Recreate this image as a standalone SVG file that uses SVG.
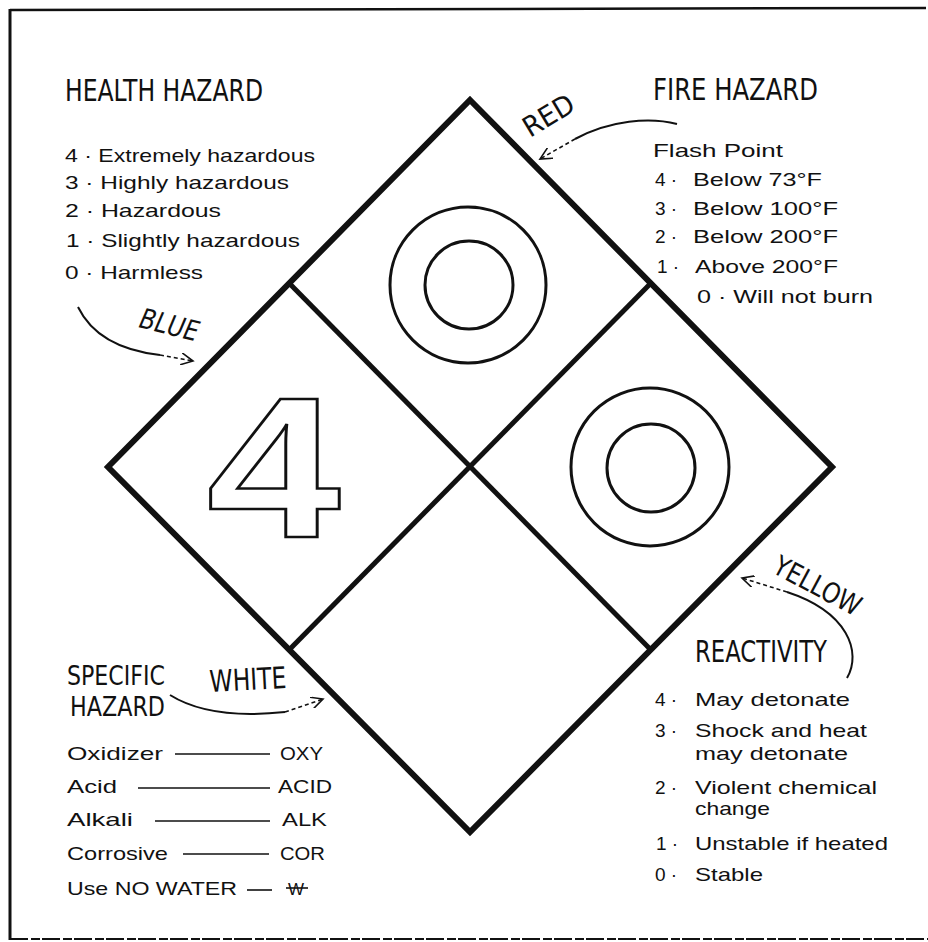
<svg xmlns="http://www.w3.org/2000/svg" width="928" height="942" viewBox="0 0 928 942">
<style>
.t{font-family:"Liberation Sans","DejaVu Sans",sans-serif;font-size:19px;fill:#111;}
.h{font-family:"Liberation Sans Narrow","DejaVu Sans Condensed",sans-serif;font-size:31px;fill:#111;}
.s{font-family:"Liberation Sans Narrow","DejaVu Sans Condensed",sans-serif;font-size:26px;fill:#111;}
.c{font-family:"Liberation Sans Narrow","DejaVu Sans Condensed",sans-serif;font-size:28px;fill:#111;}
.frame{stroke:#111;fill:none;}
.dia{stroke:#111;fill:none;stroke-linejoin:miter;}
.ring{stroke:#111;stroke-width:3;fill:none;}
.conn{stroke:#111;stroke-width:2;fill:none;}
.tip{stroke:#111;stroke-width:1.6;fill:none;stroke-dasharray:4 3;}
.dash{stroke:#111;stroke-width:1.6;}
</style>
<defs>
<marker id="arr" markerUnits="userSpaceOnUse" markerWidth="14" markerHeight="12" refX="12" refY="6" orient="auto">
<path d="M0,0 L12,6 L0,12" fill="none" stroke="#111" stroke-width="1.6"/>
</marker>
</defs>
<rect width="928" height="942" fill="#fff"/>

<g id="frame">
<line class="frame" x1="10" y1="10" x2="926" y2="8" stroke-width="2.5"/>
<line class="frame" x1="10" y1="9" x2="10" y2="940" stroke-width="3"/>
<line class="frame" x1="10" y1="939" x2="928" y2="939" stroke-width="2" stroke-dasharray="18 3 9 2"/>
</g>

<g id="diamond">
<polygon class="dia" points="470,100 832,467 470,832 108,467" stroke-width="6"/>
<line class="dia" x1="289" y1="283" x2="651" y2="650" stroke-width="5"/>
<line class="dia" x1="651" y1="283" x2="289" y2="650" stroke-width="5"/>
</g>

<g id="fire-quadrant">
<circle class="ring" cx="468" cy="285" r="78"/>
<circle class="ring" cx="469" cy="285" r="44"/>
</g>

<g id="reactivity-quadrant">
<circle class="ring" cx="650" cy="467" r="79"/>
<circle class="ring" cx="651" cy="468" r="44"/>
</g>

<g id="health-quadrant">
<text transform="translate(207,537) scale(1.2,1)" font-family="Liberation Sans,DejaVu Sans,sans-serif" font-weight="bold" font-size="200" fill="#fff" stroke="#111" stroke-width="2.5">4</text>
</g>

<g id="specific-quadrant"></g>

<g id="health-legend">
<text class="h" x="65" y="101" textLength="198" lengthAdjust="spacingAndGlyphs">HEALTH HAZARD</text>
<text class="t" x="65" y="162" textLength="250" lengthAdjust="spacingAndGlyphs">4 · Extremely hazardous</text>
<text class="t" x="65" y="189" textLength="224" lengthAdjust="spacingAndGlyphs">3 · Highly hazardous</text>
<text class="t" x="65" y="217" textLength="156" lengthAdjust="spacingAndGlyphs">2 · Hazardous</text>
<text class="t" x="66" y="247" textLength="234" lengthAdjust="spacingAndGlyphs">1 · Slightly hazardous</text>
<text class="t" x="65" y="279" textLength="138" lengthAdjust="spacingAndGlyphs">0 · Harmless</text>
</g>

<g id="fire-legend">
<text class="h" x="653" y="100" textLength="165" lengthAdjust="spacingAndGlyphs">FIRE HAZARD</text>
<text class="t" x="653" y="157" textLength="130" lengthAdjust="spacingAndGlyphs">Flash Point</text>
<text class="t" x="655" y="186">4 ·</text>
<text class="t" x="693" y="186" textLength="129" lengthAdjust="spacingAndGlyphs">Below 73°F</text>
<text class="t" x="655" y="215">3 ·</text>
<text class="t" x="693" y="215" textLength="145" lengthAdjust="spacingAndGlyphs">Below 100°F</text>
<text class="t" x="655" y="243">2 ·</text>
<text class="t" x="693" y="243" textLength="145" lengthAdjust="spacingAndGlyphs">Below 200°F</text>
<text class="t" x="657" y="273">1 ·</text>
<text class="t" x="695" y="273" textLength="143" lengthAdjust="spacingAndGlyphs">Above 200°F</text>
<text class="t" x="697" y="303" textLength="176" lengthAdjust="spacingAndGlyphs">0 · Will not burn</text>
</g>

<g id="specific-legend">
<text class="s" x="67" y="685" textLength="98" lengthAdjust="spacingAndGlyphs">SPECIFIC</text>
<text class="s" x="70" y="716" textLength="95" lengthAdjust="spacingAndGlyphs">HAZARD</text>
<text class="t" x="67" y="760" textLength="96" lengthAdjust="spacingAndGlyphs">Oxidizer</text>
<line class="dash" x1="175" y1="754" x2="270" y2="754"/>
<text class="t" x="280" y="760" textLength="43" lengthAdjust="spacingAndGlyphs">OXY</text>
<text class="t" x="67" y="793" textLength="50" lengthAdjust="spacingAndGlyphs">Acid</text>
<line class="dash" x1="138" y1="788" x2="270" y2="788"/>
<text class="t" x="278" y="793" textLength="54" lengthAdjust="spacingAndGlyphs">ACID</text>
<text class="t" x="67" y="826" textLength="66" lengthAdjust="spacingAndGlyphs">Alkali</text>
<line class="dash" x1="155" y1="821" x2="270" y2="821"/>
<text class="t" x="282" y="826" textLength="45" lengthAdjust="spacingAndGlyphs">ALK</text>
<text class="t" x="67" y="860" textLength="101" lengthAdjust="spacingAndGlyphs">Corrosive</text>
<line class="dash" x1="183" y1="854" x2="269" y2="854"/>
<text class="t" x="280" y="860" textLength="45" lengthAdjust="spacingAndGlyphs">COR</text>
<text class="t" x="67" y="895" textLength="170" lengthAdjust="spacingAndGlyphs">Use NO WATER</text>
<line class="dash" x1="247" y1="890" x2="272" y2="890"/>
<text class="t" x="288" y="895" style="font-size:17px">W</text>
<line class="dash" x1="286" y1="888" x2="308" y2="888" stroke-width="1.2"/>
</g>

<g id="reactivity-legend">
<text class="h" x="695" y="662" textLength="132" lengthAdjust="spacingAndGlyphs">REACTIVITY</text>
<text class="t" x="655" y="706">4 ·</text>
<text class="t" x="695" y="706" textLength="155" lengthAdjust="spacingAndGlyphs">May detonate</text>
<text class="t" x="655" y="737">3 ·</text>
<text class="t" x="695" y="737" textLength="172" lengthAdjust="spacingAndGlyphs">Shock and heat</text>
<text class="t" x="695" y="760" textLength="153" lengthAdjust="spacingAndGlyphs">may detonate</text>
<text class="t" x="655" y="794">2 ·</text>
<text class="t" x="695" y="794" textLength="182" lengthAdjust="spacingAndGlyphs">Violent chemical</text>
<text class="t" x="695" y="815" textLength="75" lengthAdjust="spacingAndGlyphs">change</text>
<text class="t" x="656" y="850">1 ·</text>
<text class="t" x="695" y="850" textLength="193" lengthAdjust="spacingAndGlyphs">Unstable if heated</text>
<text class="t" x="655" y="881">0 ·</text>
<text class="t" x="695" y="881" textLength="68" lengthAdjust="spacingAndGlyphs">Stable</text>
</g>

<g id="connectors">
<path class="conn" d="M78,307 Q98,348 160,355"/>
<path class="tip" d="M160,355 L193,361" marker-end="url(#arr)"/>
<path class="conn" d="M677,124 C650,117 610,120 575,139"/>
<path class="tip" d="M575,139 L540,159" marker-end="url(#arr)"/>
<path class="conn" d="M170,695 Q210,720 285,712"/>
<path class="tip" d="M285,712 L323,699" marker-end="url(#arr)"/>
<path class="conn" d="M847,678 C862,652 848,612 787,592"/>
<path class="tip" d="M787,592 L742,578" marker-end="url(#arr)"/>
</g>

<g id="color-labels">
<text class="c" x="138" y="327" style="font-style:italic" transform="rotate(14 138 327)" textLength="60" lengthAdjust="spacingAndGlyphs">BLUE</text>
<text class="c" x="530" y="138" transform="rotate(-31 530 138)" textLength="55" lengthAdjust="spacingAndGlyphs">RED</text>
<text class="c" x="210" y="692" style="font-size:30px" transform="rotate(-3 210 692)" textLength="77" lengthAdjust="spacingAndGlyphs">WHITE</text>
<text class="c" x="771" y="572" transform="rotate(28 771 572)" textLength="95" lengthAdjust="spacingAndGlyphs">YELLOW</text>
</g>
</svg>
